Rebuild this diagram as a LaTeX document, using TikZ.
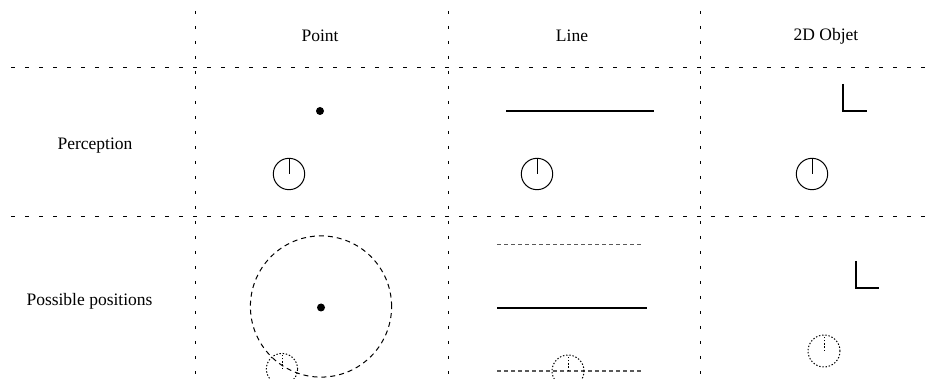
\documentclass[tikz,border=0pt]{standalone}
\usepackage{fontspec}
\setmainfont{Liberation Serif}
\begin{document}
\begin{tikzpicture}[x=0.5pt,y=-0.5pt,
  lbl/.style={font=\fontsize{8.75}{10}\selectfont, inner sep=0pt},
  vgrid/.style={line width=0.5pt, dash pattern=on 1.5pt off 6pt},
  hgrid/.style={line width=0.5pt, dash pattern=on 2pt off 5pt},
  thin circ/.style={line width=0.5pt},
  dotcirc/.style={line width=0.5pt, dash pattern=on 0.7pt off 0.9pt},
  bigdash/.style={line width=0.5pt, dash pattern=on 2.5pt off 2pt},
  ghostline/.style={line width=0.5pt, black!65, dash pattern=on 2pt off 1.5pt},
  thickline/.style={line width=1pt},
  dotmark/.style={fill=black}]
\useasboundingbox (0,0) rectangle (932,379);
\clip (0,0) rectangle (932,379);
% grid
\draw[vgrid] (195.5,11) -- (195.5,379);
\draw[vgrid] (448,11) -- (448,379);
\draw[vgrid] (700,11) -- (700,379);
\draw[hgrid] (11,67.5) -- (932,67.5);
\draw[hgrid] (11,217) -- (932,217);
% headers
\node[lbl] (hpoint) at (320,36) {Point};
\node[lbl] (hline) at (572,36) {Line};
\node[lbl] (hobj) at (826,36) {2D Objet};
\node[lbl] (rperc) at (95,146) {Perception};
\node[lbl] (rpos) at (89.5,301) {Possible positions};
% perception: point
\fill[dotmark] (320,111) circle[radius=2pt];
\draw[thin circ] (289,174) circle[radius=7.85pt];
\draw[thin circ] (289,174) -- (289,158.3);
% perception: line
\draw[thickline] (506,111) -- (654,111);
\draw[thin circ] (537,174) circle[radius=7.85pt];
\draw[thin circ] (537,174) -- (537,158.3);
% perception: 2D object
\draw[thickline] (843,84) -- (843,111.5) -- (867,111.5);
\draw[thin circ] (812,174) circle[radius=7.85pt];
\draw[thin circ] (812,174) -- (812,158.3);
% possible: point
\draw[bigdash] (321,306.5) circle[radius=35.3pt];
\fill[dotmark] (321,307.5) circle[radius=2pt];
\draw[dotcirc] (282,369) circle[radius=7.8pt];
\draw[dotcirc] (282,369) -- (282,353.4);
% possible: line
\draw[ghostline] (497,244.5) -- (643,244.5);
\draw[thickline] (497,308) -- (647,308);
\draw[ghostline] (497,371) -- (643,371);
\draw[dotcirc] (568,371) circle[radius=8pt];
\draw[dotcirc] (568,371) -- (568,355);
% possible: 2D object
\draw[thickline] (855.5,261) -- (855.5,288.5) -- (879,288.5);
\draw[dotcirc] (824,351) circle[radius=8pt];
\draw[dotcirc] (824,351) -- (824,335);
\end{tikzpicture}
\end{document}
